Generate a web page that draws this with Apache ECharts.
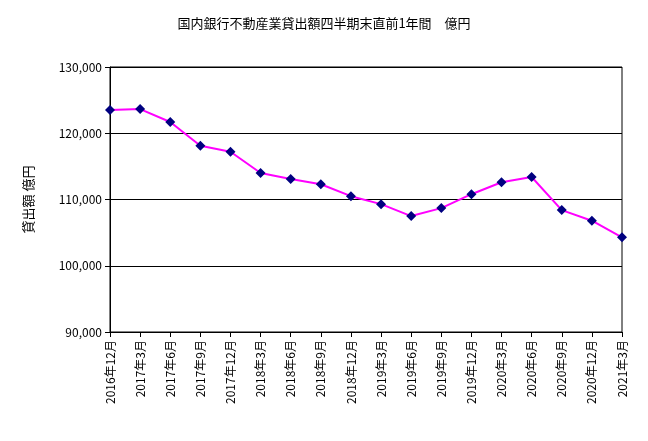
<!DOCTYPE html>
<html><head><meta charset="utf-8">
<script src="https://cdn.jsdelivr.net/npm/echarts@6/dist/echarts.min.js"></script>
<style>html,body{margin:0;padding:0;background:#fff}#c{width:648px;height:441px}</style>
</head><body><div id="c"></div>
<script>
const categories=['2016年12月','2017年3月','2017年6月','2017年9月','2017年12月','2018年3月','2018年6月','2018年9月','2018年12月','2019年3月','2019年6月','2019年9月','2019年12月','2020年3月','2020年6月','2020年9月','2020年12月','2021年3月'];
const values=[123500,123650,121700,118100,117200,114000,113100,112300,110500,109300,107500,108700,110800,112600,113400,108400,106800,104300];
const chart=echarts.init(document.getElementById('c'));
const font='"Noto Sans CJK JP", sans-serif';
chart.setOption({
  animation:false,
  title:{text:'国内銀行不動産業貸出額四半期末直前1年間　億円',left:'center',top:12,textStyle:{fontSize:13,fontWeight:'normal',color:'#000',fontFamily:font}},
  grid:{left:110,right:26,top:67,bottom:109,show:true,borderColor:'#000',borderWidth:1},
  xAxis:{type:'category',data:categories,boundaryGap:false,
    axisLine:{lineStyle:{color:'#000'}},axisTick:{show:true,lineStyle:{color:'#000'}},
    axisLabel:{rotate:90,color:'#000',fontSize:12,fontFamily:font,interval:0}},
  yAxis:{type:'value',min:90000,max:130000,interval:10000,name:'貸出額 億円',nameLocation:'middle',nameGap:75,nameRotate:90,
    nameTextStyle:{color:'#000',fontSize:13,fontFamily:font},
    axisLine:{show:true,lineStyle:{color:'#000'}},axisTick:{show:true,lineStyle:{color:'#000'}},
    axisLabel:{color:'#000',fontSize:12,fontFamily:font,formatter:v=>v.toLocaleString('en-US')},
    splitLine:{lineStyle:{color:'#000'}}},
  series:[{type:'line',data:values,symbol:'diamond',symbolSize:10,
    lineStyle:{color:'#ff00ff',width:2},itemStyle:{color:'#000080'}}]
});
</script></body></html>
